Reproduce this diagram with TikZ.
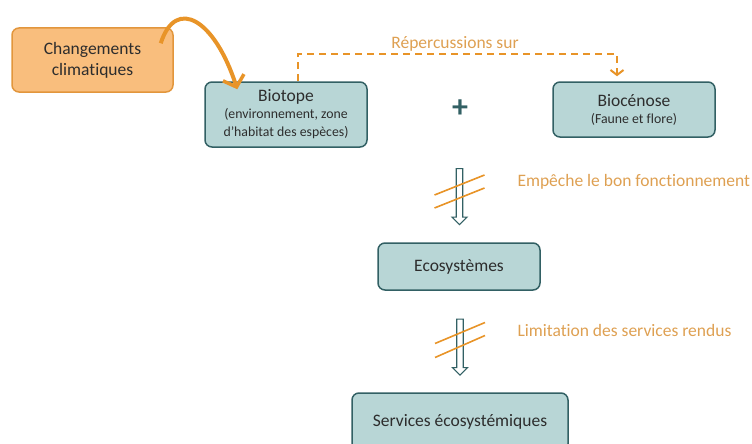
\documentclass[tikz,border=0pt]{standalone}
\usepackage{fontspec}
\setmainfont{Carlito}[Ligatures=NoCommon]
\usetikzlibrary{arrows.meta, calc, positioning, shapes.arrows}
\definecolor{boxteal}{RGB}{184,214,214}
\definecolor{darkteal}{RGB}{50,96,100}
\definecolor{boxorange}{RGB}{249,190,125}
\definecolor{edgeorange}{RGB}{226,150,60}
\definecolor{lineorange}{RGB}{232,148,40}
\definecolor{textorange}{RGB}{222,160,82}
\definecolor{boxtext}{RGB}{45,45,45}
\newcommand{\subtext}{\fontsize{13.8}{16.5}\selectfont}

\begin{document}
\begin{tikzpicture}[x=1pt, y=-1pt, >=Stealth,
    tealbox/.style={draw=darkteal, line width=1.5pt, fill=boxteal, rounded corners=7pt,
        align=center, inner sep=0pt, text=boxtext, font=\fontsize{17.5}{18}\selectfont},
    orangebox/.style={draw=edgeorange, line width=1.5pt, fill=boxorange, rounded corners=7pt,
        align=center, inner sep=0pt, text=boxtext, font=\fontsize{17.5}{21}\selectfont},
    hollowarrow/.style={single arrow, draw=darkteal, line width=1.2pt, fill=white,
        shape border rotate=270, minimum width=15pt, single arrow head extend=4pt,
        single arrow tip angle=90, minimum height=56pt, inner sep=2.5pt},
    slash/.style={lineorange, line width=1.6pt},
    notelabel/.style={textorange, anchor=west, font=\fontsize{17.5}{18}\selectfont}]
    \useasboundingbox (0,0) rectangle (752,444);
    \clip (0,0) rectangle (752,444);

    % Boxes
    \node[orangebox, minimum width=161pt, minimum height=64pt] (clim) at (92.5,60)
        {Changements\\climatiques};
    \node[tealbox, minimum width=162pt, minimum height=65pt] (biotope) at (286,114.5)
        {Biotope\\[-1pt] \subtext (environnement, zone\\ \subtext d'habitat des espèces)};
    \node[tealbox, minimum width=162pt, minimum height=55pt] (biocenose) at (634,109.5)
        {Biocénose\\[-1pt] \subtext (Faune et flore)};
    \node[darkteal, font=\fontsize{32}{32}\selectfont\bfseries] (plus) at (460,109) {+};
    \node[tealbox, minimum width=162pt, minimum height=47pt] (eco) at (459,266.5) {Ecosystèmes};
    \node[tealbox, minimum width=216pt, minimum height=58pt] (services) at (460,422)
        {Services écosystémiques};

    % Climate change acts on the biotope
    \draw[lineorange, line width=4pt, -{Straight Barb[length=10pt, width=22pt, line width=3.5pt]}]
        ($(clim.north east)+(-13,16)$) .. controls (176,-4) and (215,20) .. ($(biotope.north west)+(33,8)$);

    % Dashed link
    \coordinate (dashtop) at ($(biotope.north)+(12,-27)$);
    \coordinate (dashend) at ($(biocenose.north)+(-17,-5)$);
    \draw[lineorange, line width=2pt, dash pattern=on 7pt off 5pt,
        -{Straight Barb[length=5pt, width=13pt, line width=2pt]}]
        ($(biotope.north)+(12,0)$) -- (dashtop) -- (dashtop -| dashend) -- (dashend);
    \node[textorange, font=\fontsize{17.5}{18}\selectfont] (repl) at (455,44) {Répercussions sur};

    % Blocked flows
    \node[hollowarrow] (arrA) at (459.5,195) {};
    \draw[slash] ($(arrA.center)+(-25,0)$) -- ($(arrA.center)+(25,-20)$);
    \draw[slash] ($(arrA.center)+(-25,13)$) -- ($(arrA.center)+(25,-7)$);
    \node[notelabel] (noteA) at (514,182) {Empêche le bon fonctionnement};

    \node[hollowarrow] (arrB) at (460,345.5) {};
    \draw[slash] ($(arrB.center)+(-25,-2)$) -- ($(arrB.center)+(25,-23)$);
    \draw[slash] ($(arrB.center)+(-25,12)$) -- ($(arrB.center)+(25,-10)$);
    \node[notelabel] (noteB) at (514,330) {Limitation des services rendus};
\end{tikzpicture}
\end{document}
